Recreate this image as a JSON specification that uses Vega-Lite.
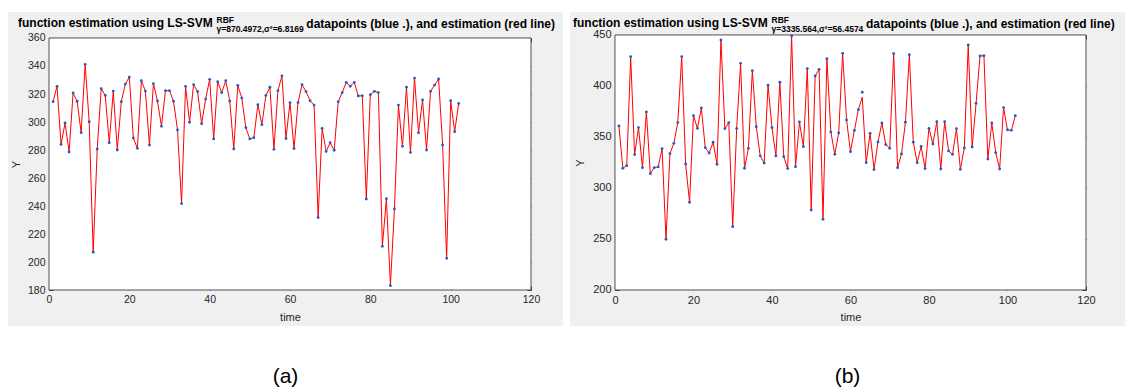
{
  "$schema": "https://vega.github.io/schema/vega-lite/v6.json",
  "background": "#ffffff",
  "padding": {"left": 8, "top": 12, "right": 0, "bottom": 0},
  "config": {
    "view": {"stroke": null},
    "font": "Liberation Sans",
    "axis": {"grid": false, "domain": false, "labelFont": "Liberation Sans", "titleFont": "Liberation Sans", "labelColor": "#262626", "tickColor": "#262626", "titleColor": "#262626", "titleFontWeight": "normal", "labelFlush": false, "tickWidth": 0.8, "titleLimit": 1000}
  },
  "datasets": {
    "a": [
      {"t":1,"y":314.5},{"t":2,"y":325.5},{"t":3,"y":284},{"t":4,"y":299.3},{"t":5,"y":278.6},{"t":6,"y":320.7},{"t":7,"y":314.8},{"t":8,"y":292.4},{"t":9,"y":341.2},{"t":10,"y":300.2},
      {"t":11,"y":207},{"t":12,"y":280.7},{"t":13,"y":323.8},{"t":14,"y":319},{"t":15,"y":285.2},{"t":16,"y":322.1},{"t":17,"y":280},{"t":18,"y":314.5},{"t":19,"y":327.1},{"t":20,"y":332.1},
      {"t":21,"y":288.6},{"t":22,"y":281.2},{"t":23,"y":329.5},{"t":24,"y":322.1},{"t":25,"y":283.6},{"t":26,"y":327.4},{"t":27,"y":315},{"t":28,"y":296.9},{"t":29,"y":322.4},{"t":30,"y":322.4},
      {"t":31,"y":314.8},{"t":32,"y":294.3},{"t":33,"y":241.7},{"t":34,"y":325.5},{"t":35,"y":299.8},{"t":36,"y":326.7},{"t":37,"y":321.7},{"t":38,"y":298.8},{"t":39,"y":316.4},{"t":40,"y":330.5},
      {"t":41,"y":287.9},{"t":42,"y":328.8},{"t":43,"y":321},{"t":44,"y":329.5},{"t":45,"y":315},{"t":46,"y":280.7},{"t":47,"y":326.2},{"t":48,"y":317.1},{"t":49,"y":296},{"t":50,"y":287.9},
      {"t":51,"y":288.8},{"t":52,"y":312.4},{"t":53,"y":298.1},{"t":54,"y":319},{"t":55,"y":324.8},{"t":56,"y":280.5},{"t":57,"y":322.4},{"t":58,"y":333},{"t":59,"y":288.2},{"t":60,"y":313.9},
      {"t":61,"y":281},{"t":62,"y":313.9},{"t":63,"y":326.7},{"t":64,"y":321.7},{"t":65,"y":315.2},{"t":66,"y":312.1},{"t":67,"y":231.7},{"t":68,"y":295.5},{"t":69,"y":279},{"t":70,"y":285.2},
      {"t":71,"y":279.8},{"t":72,"y":314.5},{"t":73,"y":321},{"t":74,"y":328.3},{"t":75,"y":325.5},{"t":76,"y":328.3},{"t":77,"y":318.6},{"t":78,"y":318.8},{"t":79,"y":245},{"t":80,"y":319.5},
      {"t":81,"y":321.9},{"t":82,"y":321},{"t":83,"y":211.2},{"t":84,"y":245.2},{"t":85,"y":183.1},{"t":86,"y":237.9},{"t":87,"y":312.1},{"t":88,"y":282.6},{"t":89,"y":324.8},{"t":90,"y":278.3},
      {"t":91,"y":331.4},{"t":92,"y":292.4},{"t":93,"y":315.7},{"t":94,"y":280},{"t":95,"y":321.9},{"t":96,"y":326.4},{"t":97,"y":330.7},{"t":98,"y":283.6},{"t":99,"y":202.6},{"t":100,"y":315.2},
      {"t":101,"y":293.1},{"t":102,"y":313.3}
    ],
    "b": [
      {"t":1,"y":360.8,"e":360.8},{"t":2,"y":319.3,"e":319.3},{"t":3,"y":321.9,"e":321.9},{"t":4,"y":428.8,"e":428.8},{"t":5,"y":332.7,"e":332.7},{"t":6,"y":359.2,"e":359.2},{"t":7,"y":319.9,"e":319.9},{"t":8,"y":374.5,"e":374.5},{"t":9,"y":314,"e":314},{"t":10,"y":319.9,"e":319.9},
      {"t":11,"y":320.6,"e":320.6},{"t":12,"y":338.6,"e":338.6},{"t":13,"y":249.7,"e":249.7},{"t":14,"y":333.7,"e":333.7},{"t":15,"y":343.8,"e":343.8},{"t":16,"y":364.1,"e":364.1},{"t":17,"y":428.8,"e":428.8},{"t":18,"y":323.5,"e":323.5},{"t":19,"y":286,"e":286},{"t":20,"y":370.9,"e":370.9},
      {"t":21,"y":358.5,"e":358.5},{"t":22,"y":378.4,"e":378.4},{"t":23,"y":339.5,"e":339.5},{"t":24,"y":334.3,"e":334.3},{"t":25,"y":344.8,"e":344.8},{"t":26,"y":323.2,"e":323.2},{"t":27,"y":445.1,"e":445.1},{"t":28,"y":358.2,"e":358.2},{"t":29,"y":364.1,"e":364.1},{"t":30,"y":262.1,"e":262.1},
      {"t":31,"y":358.2,"e":358.2},{"t":32,"y":422.2,"e":422.2},{"t":33,"y":319.3,"e":319.3},{"t":34,"y":338.9,"e":338.9},{"t":35,"y":415,"e":415},{"t":36,"y":360.1,"e":360.1},{"t":37,"y":331.5,"e":331.5},{"t":38,"y":324.5,"e":324.5},{"t":39,"y":400.7,"e":400.7},{"t":40,"y":359.2,"e":359.2},
      {"t":41,"y":331.4,"e":331.4},{"t":42,"y":403.6,"e":403.6},{"t":43,"y":330.7,"e":330.7},{"t":44,"y":319,"e":319},{"t":45,"y":449,"e":449},{"t":46,"y":320.9,"e":320.9},{"t":47,"y":364.7,"e":364.7},{"t":48,"y":340.5,"e":340.5},{"t":49,"y":417,"e":417},{"t":50,"y":278.4,"e":278.4},
      {"t":51,"y":409.8,"e":409.8},{"t":52,"y":416.3,"e":416.3},{"t":53,"y":269.3,"e":269.3},{"t":54,"y":426.8,"e":426.8},{"t":55,"y":354.9,"e":354.9},{"t":56,"y":333,"e":333},{"t":57,"y":353.9,"e":353.9},{"t":58,"y":432,"e":432},{"t":59,"y":366.7,"e":366.7},{"t":60,"y":335.6,"e":335.6},
      {"t":61,"y":356.5,"e":356.5},{"t":62,"y":376.8,"e":376.8},{"t":63,"y":393.8,"e":389},{"t":64,"y":324.8,"e":324.8},{"t":65,"y":353.6,"e":353.6},{"t":66,"y":318,"e":318},{"t":67,"y":345.1,"e":345.1},{"t":68,"y":363.7,"e":363.7},{"t":69,"y":342.5,"e":342.5},{"t":70,"y":338.9,"e":338.9},
      {"t":71,"y":431.7,"e":431.7},{"t":72,"y":319.9,"e":319.9},{"t":73,"y":333.3,"e":333.3},{"t":74,"y":364.4,"e":364.4},{"t":75,"y":430.7,"e":430.7},{"t":76,"y":344.8,"e":344.8},{"t":77,"y":324.8,"e":324.8},{"t":78,"y":340.8,"e":340.8},{"t":79,"y":319,"e":319},{"t":80,"y":358.5,"e":358.5},
      {"t":81,"y":343.1,"e":343.1},{"t":82,"y":365,"e":365},{"t":83,"y":318.6,"e":318.6},{"t":84,"y":365,"e":365},{"t":85,"y":336.3,"e":336.3},{"t":86,"y":333,"e":333},{"t":87,"y":358.2,"e":358.2},{"t":88,"y":318.3,"e":318.3},{"t":89,"y":339.2,"e":339.2},{"t":90,"y":440.2,"e":440.2},
      {"t":91,"y":340.2,"e":340.2},{"t":92,"y":383,"e":383},{"t":93,"y":429.4,"e":429.4},{"t":94,"y":429.7,"e":429.7},{"t":95,"y":328.4,"e":328.4},{"t":96,"y":363.7,"e":363.7},{"t":97,"y":334.6,"e":334.6},{"t":98,"y":318.6,"e":318.6},{"t":99,"y":378.8,"e":378.8},{"t":100,"y":356.9,"e":356.9},
      {"t":101,"y":356.5,"e":356.5},{"t":102,"y":370.9,"e":370.9}
    ]
  },
  "hconcat": [
    {
      "vconcat": [
        {
          "width": 555, "height": 314,
          "view": {"fill": "#f0f0f0", "stroke": null},
          "title": {"text": "function estimation using  LS-SVM", "anchor": "start", "frame": "group", "orient": "top", "offset": -27, "dx": 10, "baseline": "alphabetic", "fontSize": 12, "fontWeight": "bold", "font": "Liberation Sans", "color": "#000000"},
          "layer": [
            {
              "data": {"values": [{}]},
              "mark": {"type": "rect", "fill": "#ffffff", "stroke": "#262626", "strokeWidth": 0.8},
              "encoding": {
                "x": {"datum": 0, "type": "quantitative", "scale": {"domain": [-10.21, 127.97], "nice": false, "zero": false},
                  "axis": {"orient": "bottom", "offset": -36, "values": [0,20,40,60,80,100,120], "tickSize": -4, "labelPadding": 8, "labelFontSize": 10.5, "title": "time", "titleX": 282, "titleY": 30, "titleAlign": "center", "titleBaseline": "alphabetic", "titleFontSize": 11}},
                "x2": {"datum": 120},
                "y": {"datum": 180, "type": "quantitative", "scale": {"domain": [154.29, 378.57], "nice": false, "zero": false},
                  "axis": {"orient": "left", "offset": -41, "values": [180,200,220,240,260,280,300,320,340,360], "tickSize": -4, "labelPadding": 8, "labelFontSize": 10.5, "title": "Y", "titleX": -33, "titleY": 152, "titleAlign": "center", "titleBaseline": "middle", "titleFontSize": 11}},
                "y2": {"datum": 360}
              }
            },
            {
              "data": {"name": "a"},
              "mark": {"type": "line", "color": "#ff0000", "strokeWidth": 1},
              "encoding": {
                "x": {"field": "t", "type": "quantitative", "scale": {"domain": [-10.21, 127.97], "nice": false, "zero": false},
                  "axis": {"orient": "top", "offset": -26, "values": [0,20,40,60,80,100,120], "tickSize": -4, "labels": false, "title": "datapoints (blue .), and estimation  (red line)", "titleX": 297.8, "titleY": -11, "titleAlign": "left", "titleBaseline": "alphabetic", "titleFontSize": 12, "titleFontWeight": "bold", "titleColor": "#000000"}},
                "y": {"field": "y", "type": "quantitative", "scale": {"domain": [154.29, 378.57], "nice": false, "zero": false},
                  "axis": {"orient": "right", "offset": -32, "values": [180,200,220,240,260,280,300,320,340,360], "tickSize": -4, "labels": false, "title": "γ=870.4972,σ²=6.8169", "titleAngle": 0, "titleX": -315, "titleY": 19, "titleAlign": "left", "titleBaseline": "alphabetic", "titleFontSize": 8.5, "titleFontWeight": "bold", "titleColor": "#000000"}}
              }
            },
            {
              "data": {"name": "a"},
              "mark": {"type": "point", "filled": true, "size": 8, "color": "#1f5fbf", "opacity": 1},
              "encoding": {
                "x": {"field": "t", "type": "quantitative", "scale": {"domain": [-10.21, 127.97], "nice": false, "zero": false},
                  "axis": {"orient": "top", "offset": -26, "ticks": false, "labels": false, "title": "RBF", "titleX": 208, "titleY": -16, "titleAlign": "left", "titleBaseline": "alphabetic", "titleFontSize": 8.5, "titleFontWeight": "bold", "titleColor": "#000000"}},
                "y": {"field": "y", "type": "quantitative", "scale": {"domain": [154.29, 378.57], "nice": false, "zero": false}, "axis": null}
              }
            }
          ]
        },
        {
          "width": 555, "height": 26,
          "data": {"values": [{"l": "(a)"}]},
          "mark": {"type": "text", "fontSize": 21, "font": "Liberation Sans", "baseline": "middle", "color": "#000000"},
          "encoding": {"text": {"field": "l"}}
        }
      ],
      "spacing": 38
    },
    {
      "vconcat": [
        {
          "width": 555, "height": 314,
          "view": {"fill": "#f0f0f0", "stroke": null},
          "title": {"text": "function estimation using  LS-SVM", "anchor": "start", "frame": "group", "orient": "top", "offset": -27, "dx": 3, "baseline": "alphabetic", "fontSize": 12, "fontWeight": "bold", "font": "Liberation Sans", "color": "#000000"},
          "layer": [
            {
              "data": {"values": [{}]},
              "mark": {"type": "rect", "fill": "#ffffff", "stroke": "#262626", "strokeWidth": 0.8},
              "encoding": {
                "x": {"datum": 0, "type": "quantitative", "scale": {"domain": [-11.46, 129.94], "nice": false, "zero": false},
                  "axis": {"orient": "bottom", "offset": -36, "values": [0,20,40,60,80,100,120], "tickSize": -4, "labelPadding": 8, "labelFontSize": 11, "title": "time", "titleX": 280.5, "titleY": 30, "titleAlign": "center", "titleBaseline": "alphabetic", "titleFontSize": 11}},
                "x2": {"datum": 120},
                "y": {"datum": 200, "type": "quantitative", "scale": {"domain": [164.7, 472.5], "nice": false, "zero": false},
                  "axis": {"orient": "left", "offset": -45, "values": [200,250,300,350,400,450], "tickSize": -4, "labelPadding": 8, "labelFontSize": 11, "title": "Y", "titleX": -35, "titleY": 150.5, "titleAlign": "center", "titleBaseline": "middle", "titleFontSize": 11}},
                "y2": {"datum": 450}
              }
            },
            {
              "data": {"name": "b"},
              "mark": {"type": "line", "color": "#ff0000", "strokeWidth": 1},
              "encoding": {
                "x": {"field": "t", "type": "quantitative", "scale": {"domain": [-11.46, 129.94], "nice": false, "zero": false},
                  "axis": {"orient": "top", "offset": -23, "values": [0,20,40,60,80,100,120], "tickSize": -4, "labels": false, "title": "datapoints (blue .), and estimation  (red line)", "titleX": 295.5, "titleY": -8, "titleAlign": "left", "titleBaseline": "alphabetic", "titleFontSize": 12, "titleFontWeight": "bold", "titleColor": "#000000"}},
                "y": {"field": "e", "type": "quantitative", "scale": {"domain": [164.7, 472.5], "nice": false, "zero": false},
                  "axis": {"orient": "right", "offset": -39, "values": [200,250,300,350,400,450], "tickSize": -4, "labels": false, "title": "γ=3335.564,σ²=56.4574", "titleAngle": 0, "titleX": -315, "titleY": 19, "titleAlign": "left", "titleBaseline": "alphabetic", "titleFontSize": 8.5, "titleFontWeight": "bold", "titleColor": "#000000"}}
              }
            },
            {
              "data": {"name": "b"},
              "mark": {"type": "point", "filled": true, "size": 8, "color": "#1f5fbf", "opacity": 1},
              "encoding": {
                "x": {"field": "t", "type": "quantitative", "scale": {"domain": [-11.46, 129.94], "nice": false, "zero": false},
                  "axis": {"orient": "top", "offset": -23, "ticks": false, "labels": false, "title": "RBF", "titleX": 201, "titleY": -13, "titleAlign": "left", "titleBaseline": "alphabetic", "titleFontSize": 8.5, "titleFontWeight": "bold", "titleColor": "#000000"}},
                "y": {"field": "y", "type": "quantitative", "scale": {"domain": [164.7, 472.5], "nice": false, "zero": false}, "axis": null}
              }
            }
          ]
        },
        {
          "width": 555, "height": 26,
          "data": {"values": [{"l": "(b)"}]},
          "mark": {"type": "text", "fontSize": 21, "font": "Liberation Sans", "baseline": "middle", "color": "#000000"},
          "encoding": {"text": {"field": "l"}}
        }
      ],
      "spacing": 38
    }
  ],
  "spacing": 7
}
